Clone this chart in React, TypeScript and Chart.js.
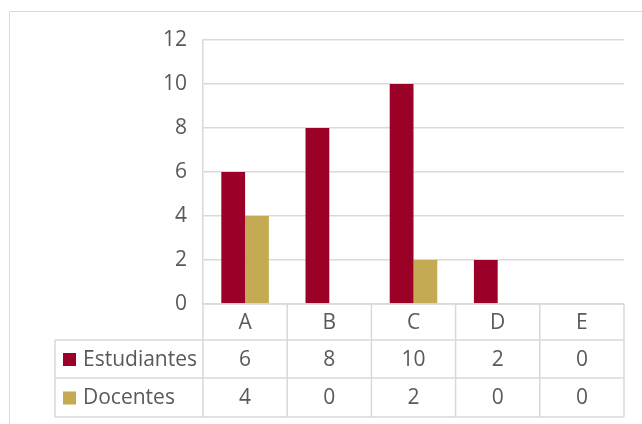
import React, { useEffect, useRef } from "react";
import { Chart, registerables } from "chart.js";

Chart.register(...registerables);

const categories = ["A", "B", "C", "D", "E"];
const seriesNames = ["Estudiantes", "Docentes"];
const estudiantes = [6, 8, 10, 2, 0];
const docentes = [4, 0, 2, 0, 0];
const seriesColors = ["#9B0029", "#C4AA52"];
const yMin = 0;
const yMax = 12;
const yStep = 2;

const FONT = '"Open Sans", "Liberation Sans", sans-serif';
const FONT_SIZE = 21;
const TEXT = "#595959";
const LINE = "#D9D9D9";

const tablePlugin = {
  id: "dataTable",
  afterDraw(chart: any) {
    const ctx = chart.ctx as CanvasRenderingContext2D;
    const ca = chart.chartArea;
    const left = ca.left;
    const right = ca.right;
    const top0 = ca.bottom;
    const n = chart.data.labels.length;
    const colW = (right - left) / n;
    const rows = [top0, top0 + 36, top0 + 74, top0 + 113];
    const tableLeft = 55;

    ctx.save();
    // outer chart border
    ctx.strokeStyle = LINE;
    ctx.lineWidth = 1;
    ctx.beginPath();
    ctx.moveTo(9.5, chart.height);
    ctx.lineTo(9.5, 11.5);
    ctx.lineTo(chart.width, 11.5);
    ctx.stroke();

    ctx.lineWidth = 1.5;
    ctx.beginPath();
    ctx.moveTo(left, rows[0]);
    ctx.lineTo(right, rows[0]);
    for (let r = 1; r < rows.length; r++) {
      ctx.moveTo(tableLeft, rows[r]);
      ctx.lineTo(right, rows[r]);
    }
    ctx.moveTo(tableLeft, rows[1]);
    ctx.lineTo(tableLeft, rows[3]);
    for (let i = 0; i <= n; i++) {
      const x = left + i * colW;
      ctx.moveTo(x, rows[0]);
      ctx.lineTo(x, rows[3]);
    }
    ctx.stroke();

    ctx.font = `${FONT_SIZE}px ${FONT}`;
    ctx.fillStyle = TEXT;
    ctx.textAlign = "center";
    ctx.textBaseline = "middle";
    const xs = chart.scales.x;
    chart.data.labels.forEach((lab: string, i: number) => {
      const cx = xs.getPixelForValue(i);
      ctx.fillText(lab, cx, (rows[0] + rows[1]) / 2 + 1);
    });
    chart.data.datasets.forEach((ds: any, d: number) => {
      const cy = (rows[d + 1] + rows[d + 2]) / 2 + 1;
      ds.data.forEach((v: number, i: number) => {
        const cx = xs.getPixelForValue(i);
        ctx.fillStyle = TEXT;
        ctx.textAlign = "center";
        ctx.fillText(String(v), cx, cy);
      });
      ctx.fillStyle = ds.backgroundColor;
      ctx.fillRect(63, cy - 7, 13, 13);
      ctx.fillStyle = TEXT;
      ctx.textAlign = "left";
      ctx.fillText(ds.label, 83, cy);
    });
    ctx.restore();
  },
};

export default function App() {
  const ref = useRef<HTMLCanvasElement>(null);
  useEffect(() => {
    if (!ref.current) return;
    const chart = new Chart(ref.current, {
      type: "bar",
      data: {
        labels: categories,
        datasets: [
          { label: seriesNames[0], data: estudiantes, backgroundColor: seriesColors[0], borderWidth: 0 },
          { label: seriesNames[1], data: docentes, backgroundColor: seriesColors[1], borderWidth: 0 },
        ],
      },
      options: {
        animation: false,
        responsive: true,
        maintainAspectRatio: false,
        layout: { padding: { left: 0, top: 40, right: 18, bottom: 120 } },
        plugins: { legend: { display: false }, tooltip: { enabled: false } },
        datasets: { bar: { categoryPercentage: 0.565, barPercentage: 1 } },
        scales: {
          x: { display: false },
          y: {
            min: yMin,
            max: yMax,
            ticks: { stepSize: yStep, padding: 16, color: TEXT, font: { family: FONT, size: FONT_SIZE } },
            grid: { color: LINE, lineWidth: 1.5, drawTicks: false, tickLength: 0 },
            border: { color: LINE, width: 1.5 },
            afterFit: (s: any) => {
              s.width = 203;
            },
          },
        },
      },
      plugins: [tablePlugin],
    });
    return () => chart.destroy();
  }, []);
  return (
    <div style={{ position: "absolute", left: 0, top: 0, width: 642, height: 424 }}>
      <canvas ref={ref} />
    </div>
  );
}
